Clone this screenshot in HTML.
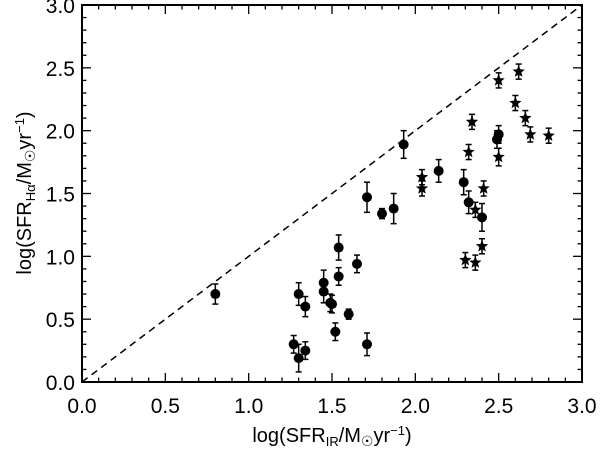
<!DOCTYPE html>
<html><head><meta charset="utf-8"><style>
body{margin:0;background:#fff;}
svg text{font-family:"Liberation Sans",sans-serif;fill:#000;}
</style></head><body>
<svg id="c" width="600" height="448" xmlns="http://www.w3.org/2000/svg"></svg>
<script>
const xTicks=[0.0,0.5,1.0,1.5,2.0,2.5,3.0];
const yTicks=[0.0,0.5,1.0,1.5,2.0,2.5,3.0];
const circX=[0.80,1.27,1.30,1.30,1.34,1.34,1.45,1.45,1.50,1.49,1.52,1.54,1.54,1.60,1.65,1.71,1.71,1.80,1.87,1.93,2.14,2.29,2.32,2.40,2.49,2.50];
const circY=[0.70,0.30,0.19,0.70,0.60,0.25,0.79,0.72,0.62,0.63,0.40,1.07,0.84,0.54,0.94,0.30,1.47,1.34,1.38,1.89,1.68,1.59,1.43,1.31,1.93,1.97];
const circE=[0.08,0.07,0.11,0.09,0.08,0.07,0.10,0.09,0.07,0.07,0.07,0.10,0.07,0.04,0.07,0.09,0.12,0.04,0.12,0.11,0.09,0.10,0.09,0.11,0.07,0.07];
const starX=[2.04,2.04,2.50,2.62,2.60,2.66,2.69,2.80,2.34,2.32,2.50,2.41,2.36,2.40,2.30,2.36];
const starY=[1.63,1.54,2.40,2.47,2.22,2.10,1.97,1.96,2.07,1.83,1.79,1.54,1.37,1.08,0.97,0.95];
const starE=[0.06,0.06,0.06,0.06,0.06,0.06,0.06,0.06,0.06,0.06,0.07,0.06,0.06,0.06,0.06,0.06];

const L=82,R=582,T=5,B=382;
const sx=v=>L+(v/3)*(R-L), sy=v=>B-(v/3)*(B-T);
const svg=document.getElementById('c');const NS='http://www.w3.org/2000/svg';
function mk(t,a,p){const e=document.createElementNS(NS,t);for(const k in a)e.setAttribute(k,a[k]);(p||svg).appendChild(e);return e;}
let g=mk('g',{});


mk('rect',{x:L,y:T,width:R-L,height:B-T,fill:'none',stroke:'#000','stroke-width':2},g);
for(let i=1;i<30;i++){const v=i/10,maj=i%5==0,len=maj?9:4.5;
 const x=sx(v),y=sy(v);
 mk('line',{x1:x,y1:B,x2:x,y2:B-len,stroke:'#000','stroke-width':1.3},g);
 mk('line',{x1:x,y1:T,x2:x,y2:T+len,stroke:'#000','stroke-width':1.3},g);
 mk('line',{x1:L,y1:y,x2:L+len,y2:y,stroke:'#000','stroke-width':1.3},g);
 mk('line',{x1:R,y1:y,x2:R-len,y2:y,stroke:'#000','stroke-width':1.3},g);}
xTicks.forEach(v=>{const t=mk('text',{x:sx(v),y:413,'text-anchor':'middle','font-size':21},g);t.textContent=v.toFixed(1);

});
yTicks.forEach(v=>{const t=mk('text',{x:75,y:sy(v)+8,'text-anchor':'end','font-size':21},g);t.textContent=v.toFixed(1);

});
const xl=mk('text',{x:332,y:442,'text-anchor':'middle','font-size':20});
xl.innerHTML='log(SFR<tspan font-size="13" dy="4">IR</tspan><tspan dy="-4">/M</tspan><tspan font-size="14" dy="4">☉</tspan><tspan dy="-4">yr</tspan><tspan font-size="13" dy="-7">−1</tspan><tspan dy="7">)</tspan>';


const yl=mk('text',{x:0,y:0,'text-anchor':'middle','font-size':20,transform:'translate(31,193) rotate(-90)'});
yl.innerHTML='log(SFR<tspan font-size="13" dy="4">Hα</tspan><tspan dy="-4">/M</tspan><tspan font-size="14" dy="4">☉</tspan><tspan dy="-4">yr</tspan><tspan font-size="13" dy="-7">−1</tspan><tspan dy="7">)</tspan>';


const dl=mk('line',{x1:sx(0),y1:sy(0),x2:sx(3),y2:sy(3),stroke:'#000','stroke-width':1.5,'stroke-dasharray':'7,5'});


function err(x,y,e){const X=sx(x);mk('line',{x1:X,y1:sy(y-e),x2:X,y2:sy(y+e),stroke:'#000','stroke-width':1.5});
[y-e,y+e].forEach(v=>mk('line',{x1:X-3,y1:sy(v),x2:X+3,y2:sy(v),stroke:'#000','stroke-width':1.5}));}
circX.forEach((x,i)=>{err(x,circY[i],circE[i]);const c=mk('circle',{cx:sx(x),cy:sy(circY[i]),r:5,fill:'#000'});

});
function starPts(cx,cy,ro,ri){let p=[];for(let k=0;k<10;k++){const r=k%2?ri:ro,a=-Math.PI/2+k*Math.PI/5;p.push((cx+r*Math.cos(a)).toFixed(1)+','+(cy+r*Math.sin(a)).toFixed(1));}return p.join(' ');}
starX.forEach((x,i)=>{err(x,starY[i],starE[i]);const s=mk('polygon',{points:starPts(sx(x),sy(starY[i]),6.5,2.8),fill:'#000'});

});
</script>
</body></html>
